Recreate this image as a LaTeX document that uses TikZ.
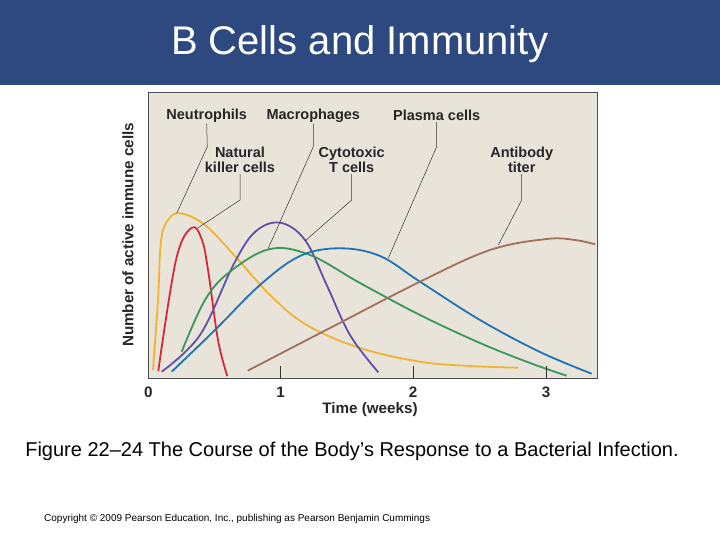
\documentclass[tikz,border=0pt]{standalone}
\usepackage{fontspec}
\setmainfont{Liberation Sans}
\begin{document}
\begin{tikzpicture}[x=1pt,y=-1pt,
  curve/.style={line width=1.8pt,smooth,tension=0.6},
  lab/.style={font=\bfseries\fontsize{14.5}{15}\selectfont,color=black!85,align=center,inner sep=1pt},
  axl/.style={font=\bfseries\fontsize{15.2}{16}\selectfont,color=black!85,inner sep=1pt},
  lead/.style={line width=0.5pt,black!80}]
\useasboundingbox (0,0) rectangle (720,540);
\fill[color={rgb,255:red,46;green,73;blue,128}] (0,0) rectangle (720,85);
\node[text=white,font=\fontsize{40}{44}\selectfont] (title) at (360,44) {B Cells and Immunity};
\draw[fill={rgb,255:red,232;green,228;blue,218},draw=black!70,line width=0.7pt] (148.3,92.3) rectangle (597.7,378.3);
% curves
\draw[curve,color={rgb,255:red,240;green,180;blue,50}] plot coordinates {(153,370) (158,300) (161,241) (168,220) (180,213.3) (205,225) (236.7,258) (270,295) (306.7,325) (360,348) (420,361.7) (470,366) (518.3,367.7)};
\draw[curve,color={rgb,255:red,214;green,40;blue,58}] plot coordinates {(158.3,371) (176,260) (191.7,227.7) (202,240) (208.3,271.7) (218,340) (227.3,376)};
\draw[curve,color={rgb,255:red,96;green,80;blue,168}] plot coordinates {(161.7,371.7) (200,335) (233.3,265) (255,232) (280,222.7) (305,240) (326.7,285) (350,335) (378.3,372.3)};
\draw[curve,color={rgb,255:red,58;green,150;blue,92}] plot coordinates {(181.7,351.7) (205,300) (230,271.7) (270,249) (310,255) (360,283) (420,315) (480,343) (530,363) (566.7,375.7)};
\draw[curve,color={rgb,255:red,30;green,115;blue,184}] plot coordinates {(171.7,371.7) (215,330) (260,285) (300,256) (340,248.3) (380,256) (420,281.7) (480,320) (540,352) (591.7,373.7)};
\draw[curve,color={rgb,255:red,160;green,112;blue,90}] plot coordinates {(247.7,370.7) (330,328) (420,281.7) (490,250) (546.7,239) (575,240) (595,244.3)};
% ticks
\foreach \x in {280.7,413,546} {
  \draw[black!80,line width=0.8pt] (\x,366) -- (\x,378.3);
}
\node[axl] (t0) at (148.3,392) {0};
\node[axl] (t1) at (280.7,392) {1};
\node[axl] (t2) at (413,392) {2};
\node[axl] (t3) at (546,392) {3};
\node[axl] (xl) at (370,410) {Time (weeks)};
\node[axl,rotate=90] (yl) at (128,235) {Number of active immune cells};
% labels
\node[lab] (neu) at (206.7,115.7) {Neutrophils};
\node[lab] (mac) at (313.3,115.7) {Macrophages};
\node[lab] (pla) at (436.7,115.7) {Plasma cells};
\node[lab] (nk) at (240,160) {Natural\\killer cells};
\node[lab] (cyt) at (351.7,160) {Cytotoxic\\T cells};
\node[lab] (ab) at (521.7,160) {Antibody\\titer};
\coordinate (neuA) at (207.3,146.7); \coordinate (neuB) at (176.7,213.3);
\coordinate (macA) at (313.3,146.7); \coordinate (macB) at (268.3,248.3);
\coordinate (plaA) at (436.7,146.7); \coordinate (plaB) at (388.3,258.3);
\coordinate (nkA) at (240,200); \coordinate (nkB) at (197.3,228.3);
\coordinate (cytA) at (351.7,200); \coordinate (cytB) at (305,241);
\coordinate (abA) at (521.7,200); \coordinate (abB) at (498.3,245);
\draw[lead] (neu.south) -- (neuA) -- (neuB);
\draw[lead] (mac.south) -- (macA) -- (macB);
\draw[lead] (pla.south) -- (plaA) -- (plaB);
\draw[lead] (nk.south) -- (nkA) -- (nkB);
\draw[lead] (cyt.south) -- (cytA) -- (cytB);
\draw[lead] (ab.south) -- (abA) -- (abB);
\node[font=\fontsize{20}{22}\selectfont] (cap) at (352,451) {Figure 22–24 The Course of the Body’s Response to a Bacterial Infection.};
\node[font=\fontsize{10}{12}\selectfont,anchor=west,inner sep=0pt] (copy) at (44,519) {Copyright © 2009 Pearson Education, Inc., publishing as Pearson Benjamin Cummings};
\end{tikzpicture}
\end{document}
